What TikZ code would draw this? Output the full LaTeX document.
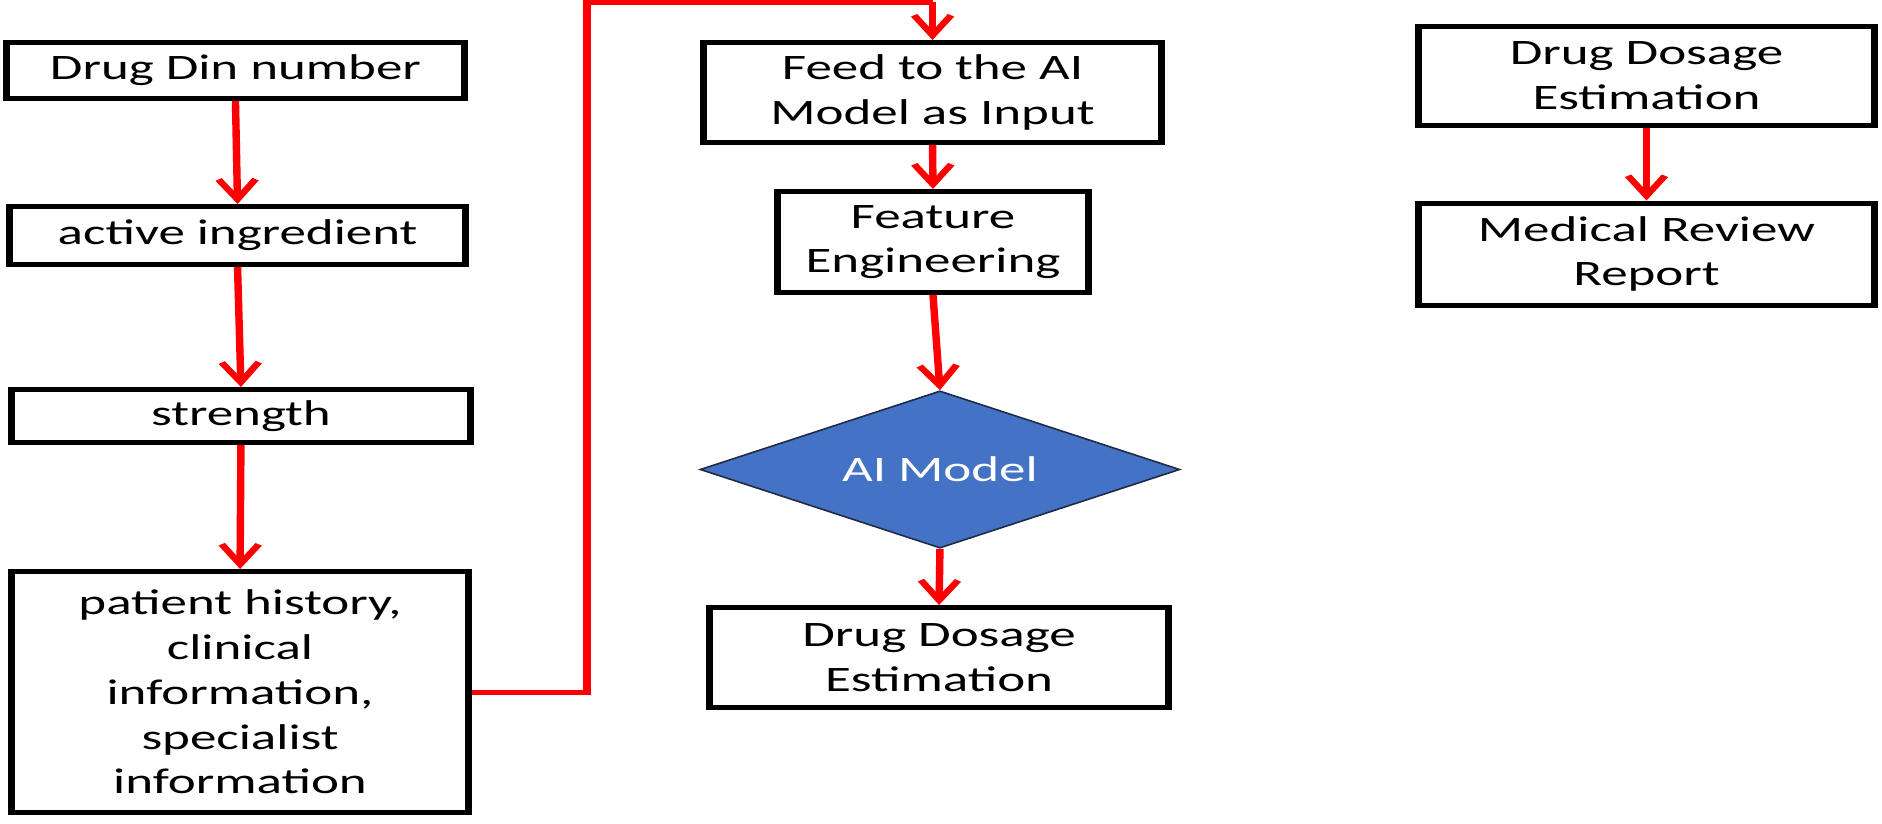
\documentclass[tikz,border=0pt]{standalone}
\usepackage{fontspec}
\setmainfont{Carlito}
\usetikzlibrary{arrows.meta,shapes.geometric}
\definecolor{aiblue}{HTML}{4472C4}
\definecolor{aiedge}{HTML}{1F2A44}
\tikzset{
  boxnode/.style={draw=black, line width=5pt, fill=white, inner sep=0pt, align=center,
    font=\fontsize{35.8}{44.8}\selectfont},
  dianode/.style={shape=diamond, draw=aiedge, line width=1.5pt, fill=aiblue, inner sep=0pt,
    text=white, font=\fontsize{35.8}{44.8}\selectfont},
  redarrow/.style={draw=red, line width=5pt, -{Straight Barb[length=20pt,width=25pt]}},
  redline/.style={draw=red, line width=5pt, line join=miter}
}
\begin{document}
\begin{tikzpicture}[x=1pt,y=-1pt]
\useasboundingbox (0,0) rectangle (1882,824);
\fill[white] (0,0) rectangle (1882,824);
\begin{scope}[transform canvas={xscale=1.48}]
\node[boxnode, minimum width=309.2pt, minimum height=56pt] (din) at (159.1,70.5) {Drug Din number};
\node[boxnode, minimum width=307.8pt, minimum height=58pt] (act) at (160.5,235.5) {active ingredient};
\node[boxnode, minimum width=309.9pt, minimum height=53pt] (str) at (162.8,416) {strength};
\node[boxnode, minimum width=308.5pt, minimum height=241pt] (pat) at (162.2,692) {patient history,\\clinical\\information,\\specialist\\information};
\node[boxnode, minimum width=309.2pt, minimum height=100pt] (feed) at (630.1,92.5) {Feed to the AI\\Model as Input};
\node[boxnode, minimum width=209.9pt, minimum height=101pt] (feat) at (630.4,242) {Feature\\Engineering};
\node[dianode, minimum width=324.3pt, minimum height=133pt] (ai) at (635.1,469.5) {AI Model};
\node[boxnode, minimum width=309.9pt, minimum height=100pt] (dose) at (634.5,657.5) {Drug Dosage\\Estimation};
\node[boxnode, minimum width=307.8pt, minimum height=99pt] (dose2) at (1112.5,76) {Drug Dosage\\Estimation};
\node[boxnode, minimum width=307.8pt, minimum height=102pt] (med) at (1112.5,254) {Medical Review\\Report};
\coordinate (c1) at (396.6,692);
\coordinate (c2) at (396.6,2.5);
\coordinate (c3) at (feed.north |- c2);
\draw[redarrow] (din.south) -- (act.north);
\draw[redarrow] (act.south) -- (str.north);
\draw[redarrow] (str.south) -- (pat.north);
\draw[redline] (pat.east) -- (c1) -- (c2) -- (c3);
\draw[redarrow] (c3) -- (feed.north);
\draw[redarrow] (feed.south) -- (feat.north);
\draw[redarrow] (feat.south) -- (ai.north);
\draw[redarrow] (ai.south) -- (dose.north);
\draw[redarrow] (dose2.south) -- (med.north);
\end{scope}
\end{tikzpicture}
\end{document}
